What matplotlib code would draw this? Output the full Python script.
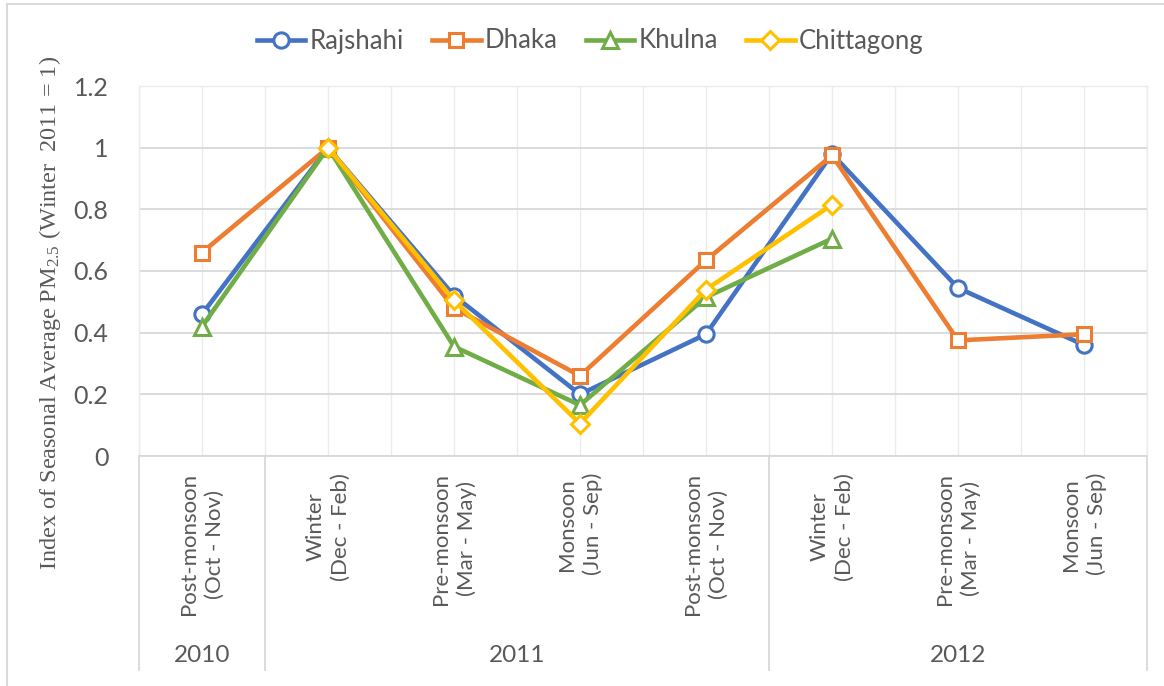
import numpy as np
import matplotlib
matplotlib.use("Agg")
import matplotlib.pyplot as plt
from matplotlib.lines import Line2D
import matplotlib.transforms as mtransforms

plt.rcParams["mathtext.fontset"] = "custom"
plt.rcParams["mathtext.rm"] = "Liberation Serif"
plt.rcParams["mathtext.it"] = "Liberation Serif:italic"
plt.rcParams["mathtext.bf"] = "Liberation Serif:bold"

nan = np.nan
seasons = ["Post-monsoon\n(Oct - Nov)", "Winter\n(Dec - Feb)", "Pre-monsoon\n(Mar - May)",
           "Monsoon\n(Jun - Sep)", "Post-monsoon\n(Oct - Nov)", "Winter\n(Dec - Feb)",
           "Pre-monsoon\n(Mar - May)", "Monsoon\n(Jun - Sep)"]
years = ["2010", "2011", "2012"]
year_spans = [(0, 0), (1, 4), (5, 7)]

rajshahi = [0.46, 1.0, 0.52, 0.20, 0.395, 0.98, 0.545, 0.36]
dhaka = [0.66, 1.0, 0.48, 0.26, 0.635, 0.975, 0.375, 0.395]
khulna = [0.42, 1.0, 0.355, 0.165, 0.515, 0.705, nan, nan]
chittagong = [nan, 1.0, 0.505, 0.105, 0.54, 0.815, nan, nan]

series = [
    ("Rajshahi", rajshahi, "#4472C4", "o", 11),
    ("Dhaka", dhaka, "#ED7D31", "s", 10),
    ("Khulna", khulna, "#70AD47", "^", 11),
    ("Chittagong", chittagong, "#FFC000", "D", 9),
]

TXT = "#595959"
GRID_H = "#d9d9d9"
GRID_V = "#ebebeb"
FONT = ["Lato", "DejaVu Sans"]

W, H = 1164, 686
fig = plt.figure(figsize=(W / 100, H / 100), dpi=100)
L, R, T, B = 139, 1147, 86, 456
ax = fig.add_axes([L / W, 1 - B / H, (R - L) / W, (B - T) / H])

x = np.arange(len(seasons))
for name, vals, col, mk, ms in series:
    ax.plot(x, vals, color=col, lw=3.3, marker=mk, markersize=ms,
            markerfacecolor="white", markeredgecolor=col, markeredgewidth=2.2,
            label=name, solid_joinstyle="round")

ax.set_xlim(-0.5, len(seasons) - 0.5)
ax.set_ylim(0, 1.2)
yt = np.arange(0, 1.21, 0.2)
ax.set_yticks(yt)
ax.set_yticklabels([f"{v:.1f}".rstrip("0").rstrip(".") if v != 0 else "0" for v in yt],
                   fontsize=18, color=TXT, family=FONT)
ax.tick_params(axis="y", length=0, pad=22)
ax.set_xticks(x)
ax.set_xticks(np.arange(-0.5, len(seasons), 1.0), minor=True)
ax.tick_params(axis="x", which="both", length=0, labelbottom=False)
ax.grid(axis="y", color=GRID_H, lw=1.3, zorder=0)
ax.grid(axis="x", which="both", color=GRID_V, lw=1.0, zorder=0)
ax.set_axisbelow(True)
for s in ["top", "right", "left"]:
    ax.spines[s].set_color(GRID_V)
    ax.spines[s].set_linewidth(1.0)
ax.spines["bottom"].set_color(GRID_H)
ax.spines["bottom"].set_linewidth(1.3)

trans = mtransforms.blended_transform_factory(ax.transData, ax.transAxes)
lab_top = -(473 - B) / (B - T)
for xi, lab in zip(x, seasons):
    ax.text(xi, lab_top, lab, transform=trans, rotation=90, ha="center", va="top",
            multialignment="center", fontsize=16, color=TXT, family=FONT, linespacing=1.35)

sep_bottom = -(670 - B) / (B - T)
bounds = [-0.5] + [e + 0.5 for (_, e) in year_spans]
for bx in bounds:
    ax.plot([bx, bx], [0, sep_bottom], transform=trans, color=GRID_H, lw=1.3, clip_on=False)

year_y = -(655 - B) / (B - T)
for yr, (s, e) in zip(years, year_spans):
    ax.text((s + e) / 2, year_y, yr, transform=trans, ha="center", va="center",
            fontsize=17.5, color=TXT, family=FONT)

fig.text(50 / W, 1 - 313 / H, r"Index of Seasonal Average $\mathrm{PM}_{2.5}$ (Winter  2011 = 1)",
         rotation=90, ha="center", va="center", fontsize=17.5, color=TXT,
         family=["Liberation Serif", "DejaVu Serif"])

fig.legend(loc="center", bbox_to_anchor=(590 / W, 1 - 41 / H), ncol=4, frameon=False,
           prop={"family": FONT, "size": 18.5}, labelcolor=TXT, handlelength=1.9,
           handletextpad=0.15, columnspacing=1.1)

fig.add_artist(Line2D([7 / W, 7 / W], [0, 1 - 4 / H], transform=fig.transFigure,
                      color=GRID_H, lw=1.5))
fig.add_artist(Line2D([7 / W, 1], [1 - 4 / H, 1 - 4 / H], transform=fig.transFigure,
                      color=GRID_H, lw=1.5))

fig.savefig("out.png", dpi=100)
